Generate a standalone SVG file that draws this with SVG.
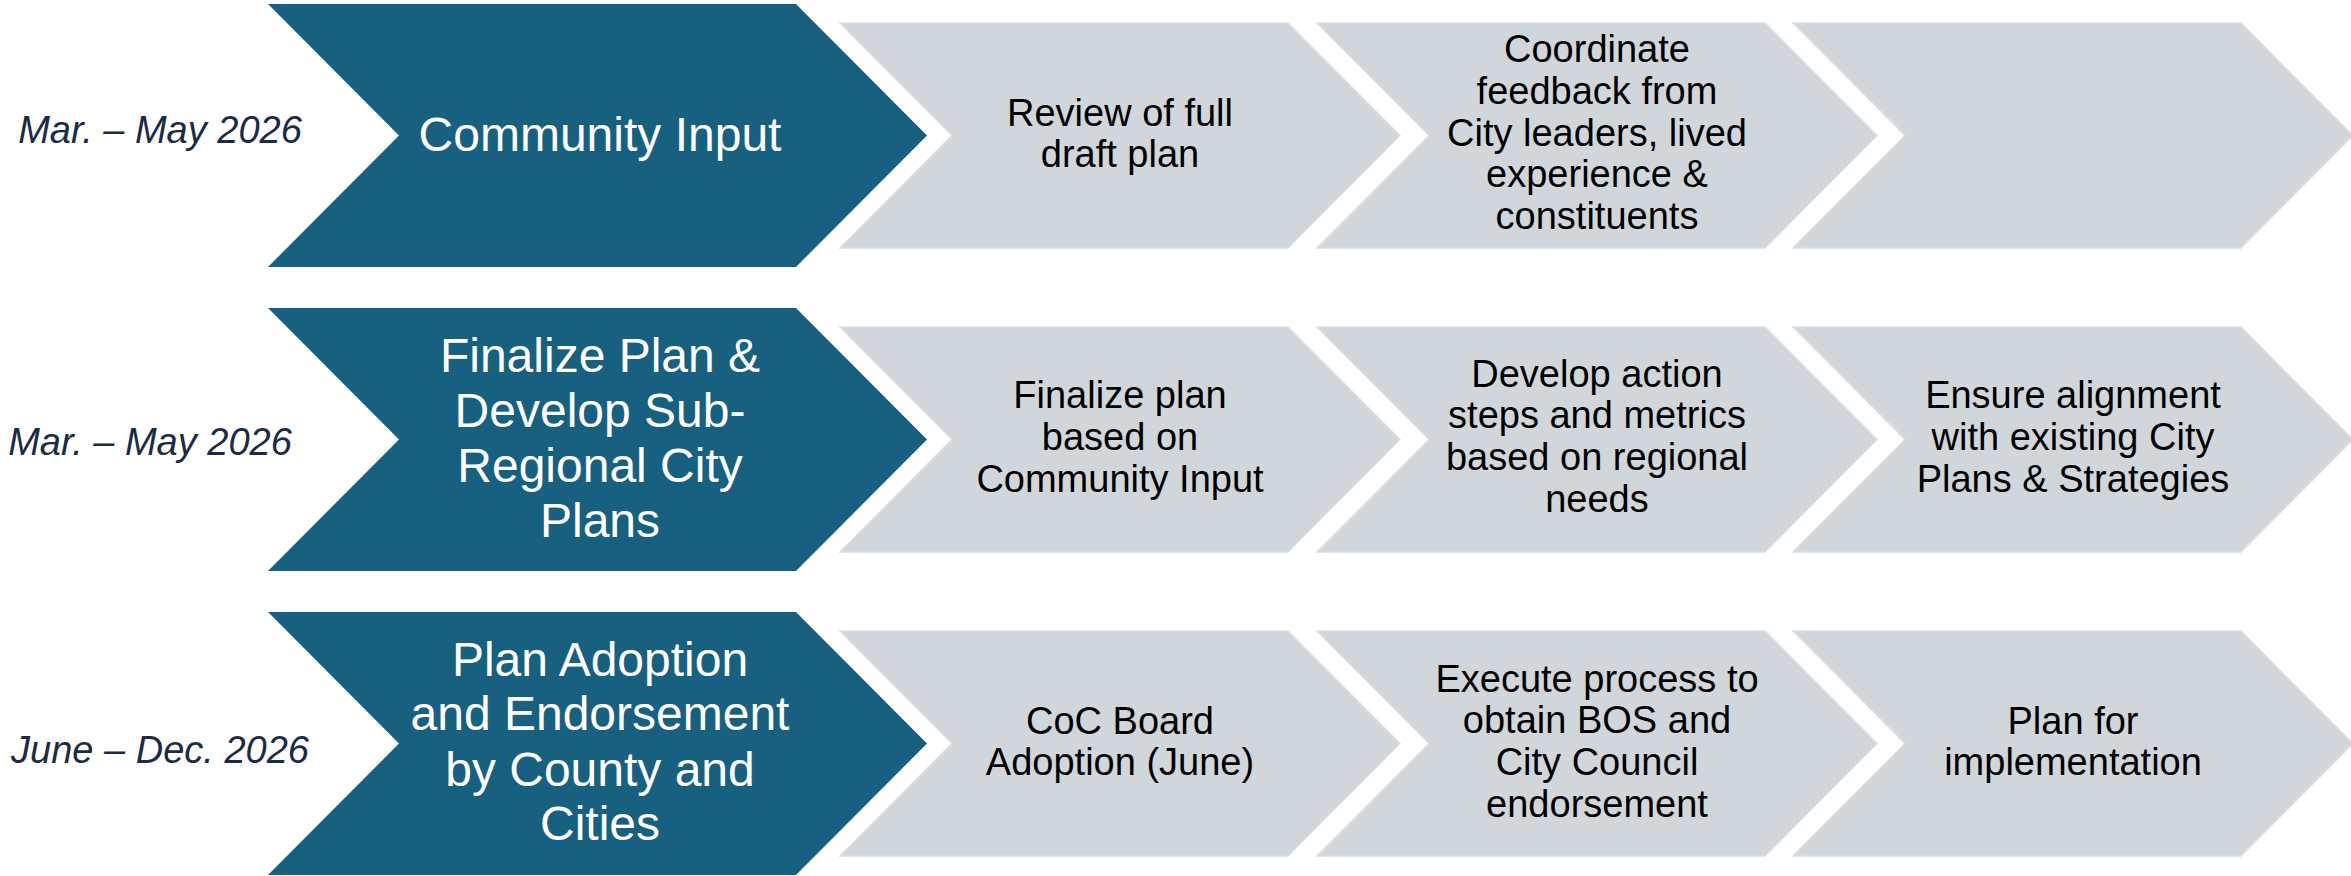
<svg xmlns="http://www.w3.org/2000/svg" width="2351" height="876" viewBox="0 0 2351 876">
<style>
.blue{fill:#18607F}
.grey{fill:#D1D6DB;stroke:#DCE0E4;stroke-width:1.5}
.date{font-family:"Liberation Sans",Arial,sans-serif;font-style:italic;font-size:38px;fill:#1B2B45;text-anchor:middle}
.bt{font-family:"Liberation Sans",Arial,sans-serif;font-size:48px;fill:#FFFFFF;text-anchor:middle}
.gt{font-family:"Liberation Sans",Arial,sans-serif;font-size:38px;fill:#000000;text-anchor:middle}
</style>
<rect width="2351" height="876" fill="#FFFFFF"/>

<!-- Row 1 -->
<g id="date1"><text class="date" x="160" y="143">Mar. – May 2026</text></g>
<g id="phase1">
<polygon class="blue" points="268,4 796,4 927,135.5 796,267 268,267 399,135.5"/>
<text class="bt" x="600" y="151">Community Input</text>
</g>
<g id="step1a">
<polygon class="grey" points="840,23 1288,23 1400,135.5 1288,248 840,248 952,135.5"/>
<text class="gt" x="1120" y="126">Review of full</text>
<text class="gt" x="1120" y="167">draft plan</text>
</g>
<g id="step1b">
<polygon class="grey" points="1317,23 1765,23 1877,135.5 1765,248 1317,248 1429,135.5"/>
<text class="gt" x="1597" y="62">Coordinate</text>
<text class="gt" x="1597" y="104">feedback from</text>
<text class="gt" x="1597" y="146">City leaders, lived</text>
<text class="gt" x="1597" y="187">experience &amp;</text>
<text class="gt" x="1597" y="229">constituents</text>
</g>
<g id="step1c">
<polygon class="grey" points="1793,23 2241,23 2353,135.5 2241,248 1793,248 1905,135.5"/>
</g>

<!-- Row 2 -->
<g id="date2"><text class="date" x="150" y="455">Mar. – May 2026</text></g>
<g id="phase2">
<polygon class="blue" points="268,308 796,308 927,439.5 796,571 268,571 399,439.5"/>
<text class="bt" x="600" y="372">Finalize Plan &amp;</text>
<text class="bt" x="600" y="427">Develop Sub-</text>
<text class="bt" x="600" y="482">Regional City</text>
<text class="bt" x="600" y="537">Plans</text>
</g>
<g id="step2a">
<polygon class="grey" points="840,327 1288,327 1400,439.5 1288,552 840,552 952,439.5"/>
<text class="gt" x="1120" y="408">Finalize plan</text>
<text class="gt" x="1120" y="450">based on</text>
<text class="gt" x="1120" y="492">Community Input</text>
</g>
<g id="step2b">
<polygon class="grey" points="1317,327 1765,327 1877,439.5 1765,552 1317,552 1429,439.5"/>
<text class="gt" x="1597" y="387">Develop action</text>
<text class="gt" x="1597" y="428">steps and metrics</text>
<text class="gt" x="1597" y="470">based on regional</text>
<text class="gt" x="1597" y="512">needs</text>
</g>
<g id="step2c">
<polygon class="grey" points="1793,327 2241,327 2353,439.5 2241,552 1793,552 1905,439.5"/>
<text class="gt" x="2073" y="408">Ensure alignment</text>
<text class="gt" x="2073" y="450">with existing City</text>
<text class="gt" x="2073" y="492">Plans &amp; Strategies</text>
</g>

<!-- Row 3 -->
<g id="date3"><text class="date" x="160" y="763">June – Dec. 2026</text></g>
<g id="phase3">
<polygon class="blue" points="268,612 796,612 927,743.5 796,875 268,875 399,743.5"/>
<text class="bt" x="600" y="676">Plan Adoption</text>
<text class="bt" x="600" y="730">and Endorsement</text>
<text class="bt" x="600" y="786">by County and</text>
<text class="bt" x="600" y="840">Cities</text>
</g>
<g id="step3a">
<polygon class="grey" points="840,631 1288,631 1400,743.5 1288,856 840,856 952,743.5"/>
<text class="gt" x="1120" y="734">CoC Board</text>
<text class="gt" x="1120" y="775">Adoption (June)</text>
</g>
<g id="step3b">
<polygon class="grey" points="1317,631 1765,631 1877,743.5 1765,856 1317,856 1429,743.5"/>
<text class="gt" x="1597" y="692">Execute process to</text>
<text class="gt" x="1597" y="733">obtain BOS and</text>
<text class="gt" x="1597" y="775">City Council</text>
<text class="gt" x="1597" y="817">endorsement</text>
</g>
<g id="step3c">
<polygon class="grey" points="1793,631 2241,631 2353,743.5 2241,856 1793,856 1905,743.5"/>
<text class="gt" x="2073" y="734">Plan for</text>
<text class="gt" x="2073" y="775">implementation</text>
</g>
<g id="connectors"></g>
</svg>
